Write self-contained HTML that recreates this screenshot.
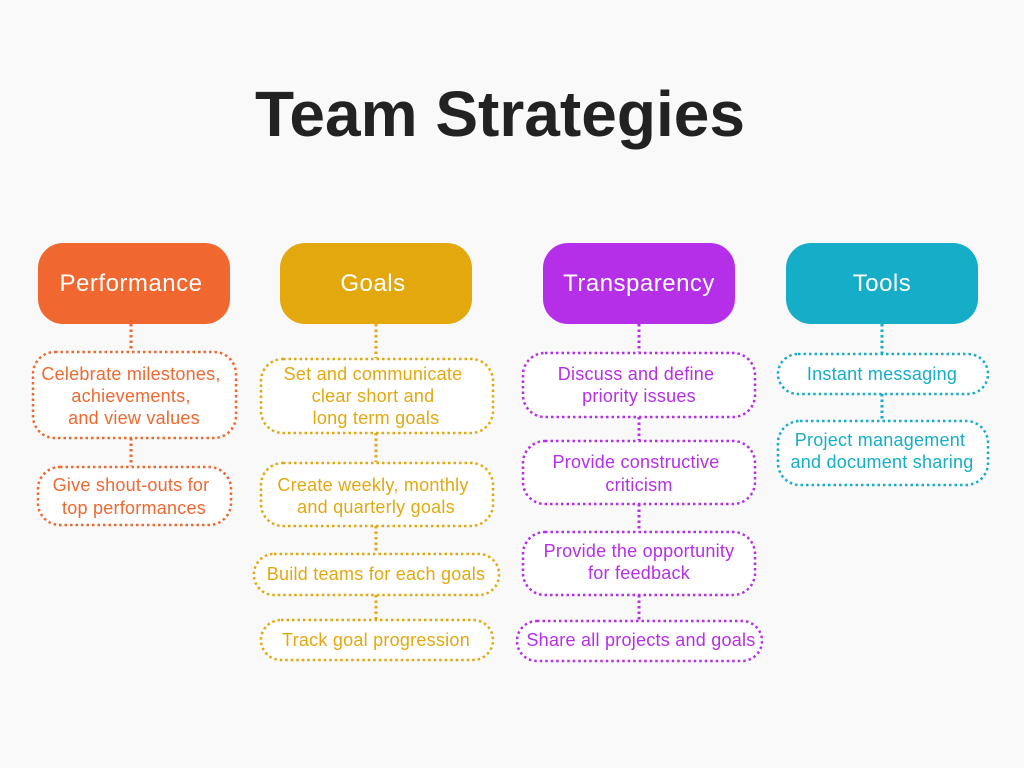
<!DOCTYPE html>
<html><head><meta charset="utf-8"><style>
html,body{margin:0;padding:0;background:#f9f9f9;}
svg{display:block;font-family:"Liberation Sans",sans-serif;}
</style></head><body>
<svg width="1024" height="768" viewBox="0 0 1024 768" xmlns="http://www.w3.org/2000/svg">
<rect width="1024" height="768" fill="#f9f9f9"/>
<text x="500" y="136" text-anchor="middle" font-size="64" font-weight="bold" fill="#222" textLength="490" lengthAdjust="spacingAndGlyphs">Team Strategies</text>

<g stroke-dasharray="2.5 3" stroke-width="3" fill="none">
<line x1="131" y1="324" x2="131" y2="351" stroke="#f06830"/>
<line x1="131" y1="438" x2="131" y2="466" stroke="#f06830"/>
<line x1="376" y1="324" x2="376" y2="358" stroke="#e2a80e"/>
<line x1="376" y1="433" x2="376" y2="462" stroke="#e2a80e"/>
<line x1="376" y1="526" x2="376" y2="553" stroke="#e2a80e"/>
<line x1="376" y1="595" x2="376" y2="619" stroke="#e2a80e"/>
<line x1="639" y1="324" x2="639" y2="352" stroke="#b52fe8"/>
<line x1="639" y1="417" x2="639" y2="440" stroke="#b52fe8"/>
<line x1="639" y1="504" x2="639" y2="531" stroke="#b52fe8"/>
<line x1="639" y1="595" x2="639" y2="620" stroke="#b52fe8"/>
<line x1="882" y1="324" x2="882" y2="353" stroke="#15adc8"/>
<line x1="882" y1="394" x2="882" y2="420" stroke="#15adc8"/>
</g>

<rect x="38" y="243" width="192" height="81" rx="25" fill="#f06830"/>
<rect x="280" y="243" width="192" height="81" rx="25" fill="#e2a80e"/>
<rect x="543" y="243" width="192" height="81" rx="25" fill="#b52fe8"/>
<rect x="786" y="243" width="192" height="81" rx="25" fill="#15adc8"/>
<g font-size="24" fill="#fff" text-anchor="middle" letter-spacing="0.5">
<text x="131" y="291">Performance</text>
<text x="373" y="291">Goals</text>
<text x="639" y="291">Transparency</text>
<text x="882" y="291">Tools</text>
</g>

<g fill="#fff" stroke-width="2.5" stroke-dasharray="2.5 3">
<rect x="33" y="352" width="203" height="86" rx="22" stroke="#f06830"/>
<rect x="38" y="467" width="193" height="58" rx="22" stroke="#f06830"/>
<rect x="261" y="359" width="232" height="74" rx="22" stroke="#e2a80e"/>
<rect x="261" y="463" width="232" height="63" rx="22" stroke="#e2a80e"/>
<rect x="254" y="554" width="245" height="41" rx="20" stroke="#e2a80e"/>
<rect x="261" y="620" width="232" height="40" rx="20" stroke="#e2a80e"/>
<rect x="523" y="353" width="232" height="64" rx="22" stroke="#b52fe8"/>
<rect x="523" y="441" width="232" height="63" rx="22" stroke="#b52fe8"/>
<rect x="523" y="532" width="232" height="63" rx="22" stroke="#b52fe8"/>
<rect x="517" y="621" width="245" height="40" rx="20" stroke="#b52fe8"/>
<rect x="778" y="354" width="210" height="40" rx="20" stroke="#15adc8"/>
<rect x="778" y="421" width="210" height="64" rx="22" stroke="#15adc8"/>
</g>

<g font-size="18" text-anchor="middle" letter-spacing="0.25">
<g fill="#f06830">
<text x="131" y="380">Celebrate milestones,</text>
<text x="131" y="402">achievements,</text>
<text x="134" y="424">and view values</text>
<text x="131" y="491">Give shout-outs for</text>
<text x="134" y="514">top performances</text>
</g>
<g fill="#e2a80e">
<text x="373" y="380">Set and communicate</text>
<text x="373" y="402">clear short and</text>
<text x="376" y="424">long term goals</text>
<text x="373" y="491">Create weekly, monthly</text>
<text x="376" y="513">and quarterly goals</text>
<text x="376" y="580">Build teams for each goals</text>
<text x="376" y="646">Track goal progression</text>
</g>
<g fill="#b52fe8">
<text x="636" y="380">Discuss and define</text>
<text x="639" y="402">priority issues</text>
<text x="636" y="468">Provide constructive</text>
<text x="639" y="491">criticism</text>
<text x="639" y="557">Provide the opportunity</text>
<text x="639" y="579">for feedback</text>
<text x="641" y="646">Share all projects and goals</text>
</g>
<g fill="#15adc8">
<text x="882" y="380">Instant messaging</text>
<text x="880" y="446">Project management</text>
<text x="882" y="468">and document sharing</text>
</g>
</g>
</svg>
</body></html>
